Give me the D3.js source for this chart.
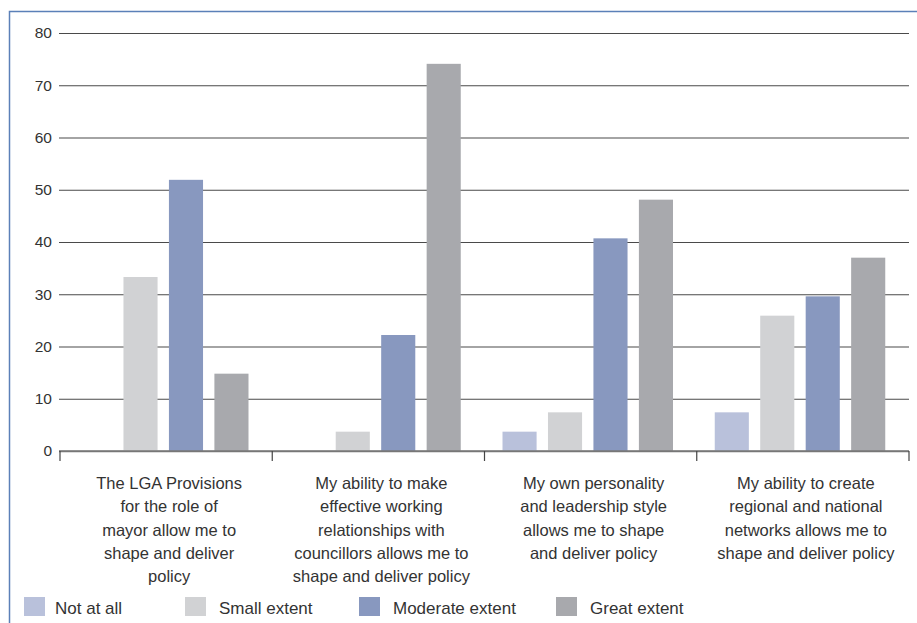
<!DOCTYPE html>
<html>
<head>
<meta charset="utf-8">
<script src="https://cdn.jsdelivr.net/npm/d3@7"></script>
<style>
  html, body { margin: 0; padding: 0; background: #fff; }
  svg { display: block; font-family: "Liberation Sans", Arial, sans-serif; }
</style>
</head>
<body>
<div id="chart"></div>
<script>
// categories, one array of wrapped lines each (as in the original)
const categories = [
  ["The LGA Provisions", "for the role of", "mayor allow me to", "shape and deliver", "policy"],
  ["My ability to make", "effective working", "relationships with", "councillors allows me to", "shape and deliver policy"],
  ["My own personality", "and leadership style", "allows me to shape", "and deliver policy"],
  ["My ability to create", "regional and national", "networks allows me to", "shape and deliver policy"],
];

const seriesNames = ["Not at all", "Small extent", "Moderate extent", "Great extent"];
const notAtAll = [0, 0, 3.7, 7.4];
const smallExtent = [33.3, 3.7, 7.4, 25.9];
const moderateExtent = [51.9, 22.2, 40.7, 29.6];
const greatExtent = [14.8, 74.1, 48.1, 37.0];
const yTicks = [0, 10, 20, 30, 40, 50, 60, 70, 80];

const seriesValues = [notAtAll, smallExtent, moderateExtent, greatExtent];
const colors = ["#b9c1db", "#d1d2d4", "#8898bf", "#a8a9ad"];

const width = 917;
const height = 623;
const margin = { top: 33, right: 8, bottom: 172, left: 59 };
const plotBottom = height - margin.bottom;

const svg = d3.select("#chart").append("svg")
  .attr("width", width)
  .attr("height", height);

// blue frame (top and left edges only)
svg.append("path")
  .attr("d", `M9.5,${height} V11.5 H${width}`)
  .attr("fill", "none")
  .attr("stroke", "#5b80b8")
  .attr("stroke-width", 1.5);

const x0 = d3.scaleBand()
  .domain(d3.range(categories.length))
  .range([margin.left + 1, width - margin.right])
  .paddingInner(0);

const x1 = d3.scaleBand()
  .domain(seriesNames)
  .range([18, 188.5])
  .paddingInner(0.25);

const y = d3.scaleLinear()
  .domain([0, 80])
  .range([plotBottom, margin.top]);

// gridlines + y labels
const yAxis = svg.append("g")
  .attr("transform", `translate(${margin.left},0)`)
  .call(d3.axisLeft(y)
    .tickValues(yTicks)
    .tickSize(-(width - margin.right - margin.left))
    .tickPadding(7));
yAxis.select(".domain").remove();
yAxis.selectAll(".tick line")
  .attr("stroke", (d) => (d === 0 ? "#777" : "#4a4a4a"))
  .attr("stroke-width", (d) => (d === 0 ? 1.5 : 1.2));
yAxis.selectAll(".tick text")
  .attr("fill", "#333")
  .attr("font-size", 15.5)
  .attr("font-family", "Liberation Sans, Arial, sans-serif");

// bars
const groups = svg.append("g")
  .selectAll("g")
  .data(categories.map((c, i) => i))
  .join("g")
  .attr("transform", (i) => `translate(${x0(i)},0)`);

groups.selectAll("rect")
  .data((i) => seriesNames.map((s, k) => ({ s, k, v: seriesValues[k][i] })))
  .join("rect")
  .attr("x", (d) => x1(d.s))
  .attr("width", x1.bandwidth())
  .attr("y", (d) => y(d.v))
  .attr("height", (d) => y(0) - y(d.v))
  .attr("fill", (d) => colors[d.k]);

// baseline with category ticks
const xAxis = svg.append("g").attr("transform", `translate(0,${plotBottom})`);
xAxis.append("line")
  .attr("x1", margin.left)
  .attr("x2", width - margin.right)
  .attr("stroke", "#777")
  .attr("stroke-width", 1.5);
xAxis.selectAll(".cat-tick")
  .data(d3.range(categories.length + 1))
  .join("line")
  .attr("class", "cat-tick")
  .attr("x1", (i) => (i < categories.length ? x0(i) : x0(i - 1) + x0.bandwidth()))
  .attr("x2", (i) => (i < categories.length ? x0(i) : x0(i - 1) + x0.bandwidth()))
  .attr("y1", 0)
  .attr("y2", 10)
  .attr("stroke", "#444")
  .attr("stroke-width", 1.2);

// category labels
svg.append("g")
  .selectAll("text")
  .data(categories)
  .join("text")
  .attr("text-anchor", "middle")
  .attr("fill", "#333")
  .attr("font-size", 16.5)
  .attr("transform", (d, i) => `translate(${x0(i) + x0.bandwidth() / 2 + 3},${plotBottom + 38})`)
  .selectAll("tspan")
  .data((d) => d)
  .join("tspan")
  .attr("x", 0)
  .attr("y", (d, i) => i * 23.3)
  .text((d) => d);

// legend
const legendX = [24, 185, 359, 556];
const legend = svg.append("g")
  .selectAll("g")
  .data(seriesNames)
  .join("g")
  .attr("transform", (d, i) => `translate(${legendX[i]},597)`);
legend.append("rect")
  .attr("width", 21)
  .attr("height", 19)
  .attr("fill", (d, i) => colors[i]);
legend.append("text")
  .attr("x", (d, i) => (i === 0 ? 31 : 34))
  .attr("y", 17)
  .attr("fill", "#333")
  .attr("font-size", 17)
  .text((d) => d);
</script>
</body>
</html>
